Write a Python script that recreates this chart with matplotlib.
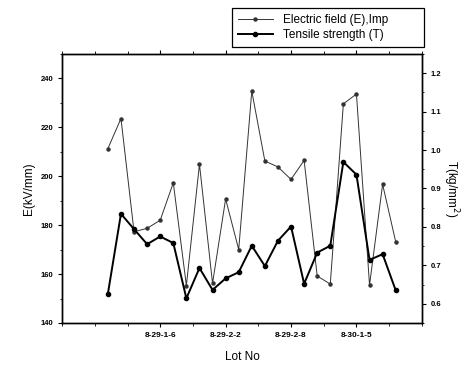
import numpy as np
import matplotlib
matplotlib.use('Agg')
import matplotlib.pyplot as plt
from matplotlib.ticker import MultipleLocator, FixedLocator

plt.rcParams['font.family'] = ['Liberation Sans', 'DejaVu Sans']

# Lot index and data
lot_index = np.arange(1, 24)
electric_field = [211.3, 223.6, 177.3, 178.7, 182.0, 197.3, 155.3, 204.9, 156.2,
                  190.7, 170.0, 234.8, 206.2, 203.8, 198.7, 206.5, 159.2, 155.9,
                  229.6, 233.6, 155.5, 196.7, 173.2]
tensile_strength = [0.626, 0.834, 0.794, 0.755, 0.775, 0.758, 0.614, 0.693, 0.636,
                    0.666, 0.682, 0.751, 0.698, 0.764, 0.801, 0.652, 0.733, 0.751,
                    0.969, 0.936, 0.714, 0.729, 0.635]
tick_positions = [5, 10, 15, 20]
tick_labels = ['8-29-1-6', '8-29-2-2', '8-29-2-8', '8-30-1-5']

fig = plt.figure(figsize=(4.74, 3.67), dpi=100)
ax = fig.add_axes([0.131, 0.12, 0.759, 0.733])
ax2 = ax.twinx()

l1, = ax.plot(lot_index, electric_field, color='#333333', lw=0.7, marker='o',
              ms=2.2, label='Electric field (E),Imp')
l2, = ax2.plot(lot_index, tensile_strength, color='black', lw=1.4, marker='o',
               ms=3, label='Tensile strength (T)')

ax.set_xlim(-2.5, 25)
ax.set_ylim(140, 250)
ax2.set_ylim(0.55, 1.25)

ax.xaxis.set_major_locator(FixedLocator(tick_positions))
ax.set_xticklabels(tick_labels, fontsize=6, fontweight='bold')
ax.xaxis.set_minor_locator(MultipleLocator(2.5))
ax.yaxis.set_major_locator(MultipleLocator(20))
ax.yaxis.set_minor_locator(MultipleLocator(10))
ax2.yaxis.set_major_locator(MultipleLocator(0.1))
ax2.yaxis.set_minor_locator(MultipleLocator(0.05))
ax.tick_params(axis='y', labelsize=5.5)
ax2.tick_params(axis='y', labelsize=5.5)
ax2.yaxis.set_major_formatter(plt.FuncFormatter(lambda v, p: f'{v:.1f}'))
for lab in ax.get_yticklabels() + ax2.get_yticklabels():
    lab.set_fontweight('bold')

ax.tick_params(axis='x', which='both', direction='out', top=True, length=3)
ax.tick_params(axis='x', which='minor', length=2)
ax.tick_params(axis='y', which='major', direction='out', length=3, width=0.8)
ax.tick_params(axis='y', which='minor', direction='out', length=1.5)
ax2.tick_params(axis='y', which='major', direction='out', length=3, width=0.8)
ax2.tick_params(axis='y', which='minor', direction='out', length=1.5)

for a in (ax, ax2):
    for s in a.spines.values():
        s.set_linewidth(1.0)

ax.set_ylabel('E(kV/mm)', fontsize=8.5)
ax2.set_ylabel('T(kg/mm$^2$)', fontsize=8.5, rotation=270, labelpad=14)
ax.set_xlabel('Lot No', fontsize=8.5, labelpad=9)

leg = fig.legend(handles=[l1, l2], loc='upper left',
                 bbox_to_anchor=(0.489, 0.867, 0.405, 0.11), mode='expand',
                 fontsize=8.5, frameon=True, fancybox=False,
                 edgecolor='black', framealpha=1, handlelength=3,
                 borderaxespad=0, labelspacing=0.25, borderpad=0.5)
leg.get_frame().set_linewidth(0.9)

fig.savefig('out.png', dpi=100)
